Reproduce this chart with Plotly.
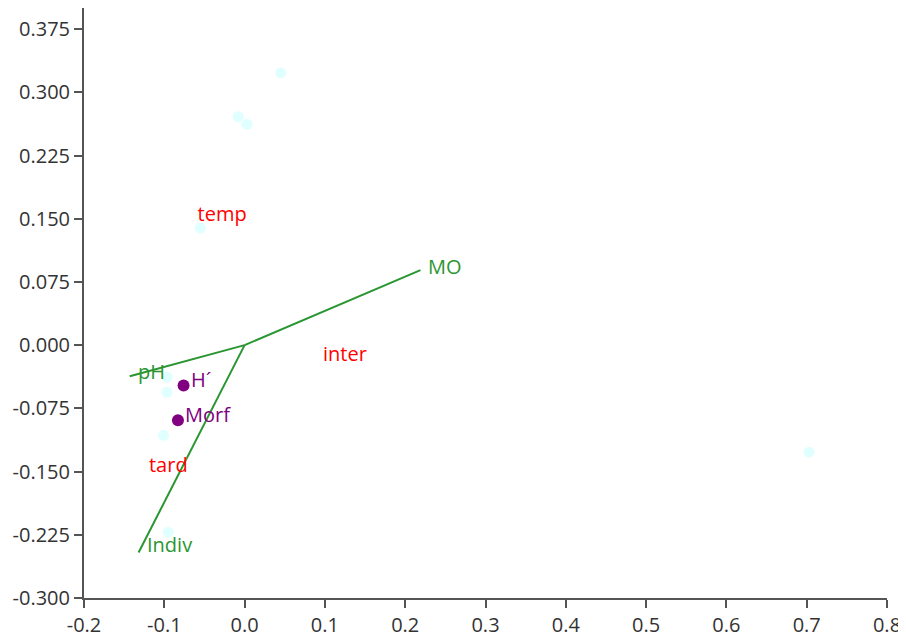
import plotly.graph_objects as go

# Faint sample points (light cyan)
site_x = [0.045, -0.008, 0.003, -0.055, -0.0965, -0.0965, -0.101, -0.095, 0.703]
site_y = [0.323, 0.271, 0.262, 0.139, -0.038, -0.056, -0.107, -0.222, -0.127]

# Environmental vectors (green)
vec_names = ["MO", "pH", "Indiv"]
vec_x = [0.219, -0.143, -0.132]
vec_y = [0.089, -0.037, -0.246]

# Group labels (red)
grp_names = ["temp", "inter", "tard"]
grp_x = [-0.028, 0.125, -0.095]
grp_y = [0.153, -0.013, -0.145]

# Purple points
pt_names = ["H´", "Morf"]
pt_x = [-0.076, -0.083]
pt_y = [-0.048, -0.089]

# Axis ticks
x_ticks = [-0.2, -0.1, 0.0, 0.1, 0.2, 0.3, 0.4, 0.5, 0.6, 0.7, 0.8]
y_ticks = [-0.3, -0.225, -0.15, -0.075, 0.0, 0.075, 0.15, 0.225, 0.3, 0.375]

FONT = "Open Sans"
GREEN = "#2a9632"
FS = 20

fig = go.Figure()

fig.add_trace(go.Scatter(x=site_x, y=site_y, mode="markers",
                         marker=dict(size=11, color="#e0ffff"),
                         hoverinfo="skip", showlegend=False))

lx, ly = [], []
for ex, ey in zip(vec_x, vec_y):
    lx += [0, ex, None]
    ly += [0, ey, None]
fig.add_trace(go.Scatter(x=lx, y=ly, mode="lines",
                         line=dict(color=GREEN, width=2),
                         hoverinfo="skip", showlegend=False))

label_yshift = {"MO": 4, "pH": 5, "Indiv": 8}
for name, ex, ey in zip(vec_names, vec_x, vec_y):
    fig.add_annotation(x=ex, y=ey, text=name, showarrow=False,
                       xanchor="left", yanchor="middle", xshift=6,
                       yshift=label_yshift[name],
                       font=dict(family=FONT, size=FS, color=GREEN))

fig.add_trace(go.Scatter(x=grp_x, y=grp_y, mode="text", text=grp_names,
                         textposition="middle center",
                         textfont=dict(family=FONT, size=FS, color="#ff0000"),
                         hoverinfo="skip", showlegend=False))

fig.add_trace(go.Scatter(x=pt_x, y=pt_y, mode="markers",
                         marker=dict(size=12, color="#800080"),
                         hoverinfo="skip", showlegend=False))
for name, px, py in zip(pt_names, pt_x, pt_y):
    fig.add_annotation(x=px, y=py, text=name, showarrow=False,
                       xanchor="left", yanchor="middle", xshift=5, yshift=6,
                       font=dict(family=FONT, size=FS, color="#800080"))

axis_common = dict(showgrid=False, zeroline=False, showline=True,
                   linecolor="#555555", linewidth=2, ticks="outside",
                   ticklen=8, tickwidth=2, tickcolor="#555555",
                   automargin=False,
                   tickfont=dict(family=FONT, size=FS, color="#333333"))

# The page body adds an 8px margin, so the figure is sized to fit inside it.
fig.update_layout(
    width=898, height=633,
    margin=dict(l=76, r=19, t=0, b=43),
    paper_bgcolor="white", plot_bgcolor="white",
    xaxis=dict(range=[-0.2, 0.8], tickvals=x_ticks,
               ticktext=[f"{v:.1f}" for v in x_ticks],
               **axis_common),
    yaxis=dict(range=[-0.3, 0.4], tickvals=y_ticks,
               ticktext=[f"{v:.3f}" for v in y_ticks],
               **axis_common),
)

fig.write_html("out.html")
